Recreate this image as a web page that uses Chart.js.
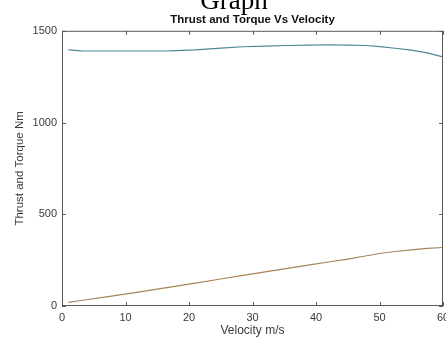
<!DOCTYPE html>
<html>
<head>
<meta charset="utf-8">
<script src="https://cdn.jsdelivr.net/npm/chart.js@4.4.1/dist/chart.umd.min.js"></script>
<style>
  html, body { margin: 0; padding: 0; background: #fff; }
  #wrap { width: 446px; height: 338px; position: relative; }
</style>
</head>
<body>
<div id="wrap"><canvas id="grafico"></canvas></div>
<script>
// dados
const velocity = [1, 3, 7, 12, 17, 21, 25, 28.5, 32, 35.5, 39, 42, 45, 48, 50, 52.5, 55, 57.5, 60];
const thrust = [1396, 1391, 1390, 1390, 1391, 1396, 1406, 1413, 1417, 1420, 1422, 1424, 1422, 1420, 1414, 1405, 1395, 1380, 1358];
const torque = [20, 30, 50, 76, 103, 125, 147, 167, 186, 205, 224, 240, 256, 274, 286, 297, 306, 314, 319];
const xTicks = [0, 10, 20, 30, 40, 50, 60];
const yTicks = [0, 500, 1000, 1500];

const corEixo = '#5a5a5a';
const corTexto = '#3a3a3a';

// caixa do grafico (estilo matlab) com ticks para dentro
const caixaPlugin = {
    id: 'caixa',
    afterDraw(chart) {
        const { ctx, chartArea: a, scales } = chart;
        ctx.save();
        ctx.strokeStyle = corEixo;
        ctx.lineWidth = 1;
        ctx.strokeRect(a.left + 0.5, a.top + 0.5, a.right - a.left - 1, a.bottom - a.top - 1);
        ctx.beginPath();
        xTicks.forEach(v => {
            const px = Math.round(scales.x.getPixelForValue(v)) + 0.5;
            ctx.moveTo(px, a.bottom); ctx.lineTo(px, a.bottom - 4);
            ctx.moveTo(px, a.top); ctx.lineTo(px, a.top + 4);
        });
        yTicks.forEach(v => {
            const py = Math.round(scales.y.getPixelForValue(v)) + 0.5;
            ctx.moveTo(a.left, py); ctx.lineTo(a.left + 4, py);
            ctx.moveTo(a.right, py); ctx.lineTo(a.right - 4, py);
        });
        ctx.stroke();

        // titulo "Graph" cortado no topo
        ctx.fillStyle = '#000';
        ctx.font = '27px "Liberation Serif", "DejaVu Serif", serif';
        ctx.textAlign = 'center';
        ctx.textBaseline = 'alphabetic';
        ctx.fillText('Graph', 234, 9);
        ctx.restore();
    }
};

const ctx = document.getElementById('grafico').getContext('2d');
new Chart(ctx, {
    type: 'line',
    data: {
        datasets: [
            {
                label: 'Thrust',
                data: velocity.map((v, i) => ({ x: v, y: thrust[i] })),
                borderColor: '#4f8798',
                borderWidth: 1.2,
                pointRadius: 0,
                tension: 0
            },
            {
                label: 'Torque',
                data: velocity.map((v, i) => ({ x: v, y: torque[i] })),
                borderColor: '#a8845c',
                borderWidth: 1.2,
                pointRadius: 0,
                tension: 0
            }
        ]
    },
    options: {
        responsive: true,
        maintainAspectRatio: false,
        animation: false,
        layout: { padding: { left: 0, right: 3, top: 0, bottom: 0 } },
        plugins: {
            legend: { display: false },
            tooltip: { enabled: false },
            title: {
                display: true,
                text: 'Thrust and Torque Vs Velocity',
                fullSize: false,
                color: '#111',
                font: { family: '"Liberation Sans", Arial, sans-serif', size: 11.5, weight: 'bold' },
                padding: { top: 13, bottom: 4 }
            }
        },
        scales: {
            x: {
                type: 'linear',
                min: 0,
                max: 60,
                afterBuildTicks: s => { s.ticks = xTicks.map(v => ({ value: v })); },
                afterFit: s => { s.height = 32; s.paddingRight = 0; s.paddingLeft = 0; },
                grid: { display: false, drawTicks: false },
                border: { display: false },
                ticks: {
                    color: corTexto,
                    padding: 5,
                    maxRotation: 0,
                    callback: v => String(v),
                    font: { family: '"Liberation Sans", Arial, sans-serif', size: 11 }
                },
                title: {
                    display: true,
                    text: 'Velocity m/s',
                    color: corTexto,
                    padding: { top: 0, bottom: 0 },
                    font: { family: '"Liberation Sans", Arial, sans-serif', size: 12 }
                }
            },
            y: {
                type: 'linear',
                min: 0,
                max: 1500,
                afterBuildTicks: s => { s.ticks = yTicks.map(v => ({ value: v })); },
                afterFit: s => { s.width = 62; s.paddingTop = 0; s.paddingBottom = 0; },
                grid: { display: false, drawTicks: false },
                border: { display: false },
                ticks: {
                    color: corTexto,
                    padding: 5,
                    callback: v => String(v),
                    font: { family: '"Liberation Sans", Arial, sans-serif', size: 11 }
                },
                title: {
                    display: true,
                    text: 'Thrust and Torque Nm',
                    color: corTexto,
                    padding: { top: 13, bottom: 4 },
                    font: { family: '"Liberation Sans", Arial, sans-serif', size: 11.5 }
                }
            }
        }
    },
    plugins: [caixaPlugin]
});
</script>
</body>
</html>
